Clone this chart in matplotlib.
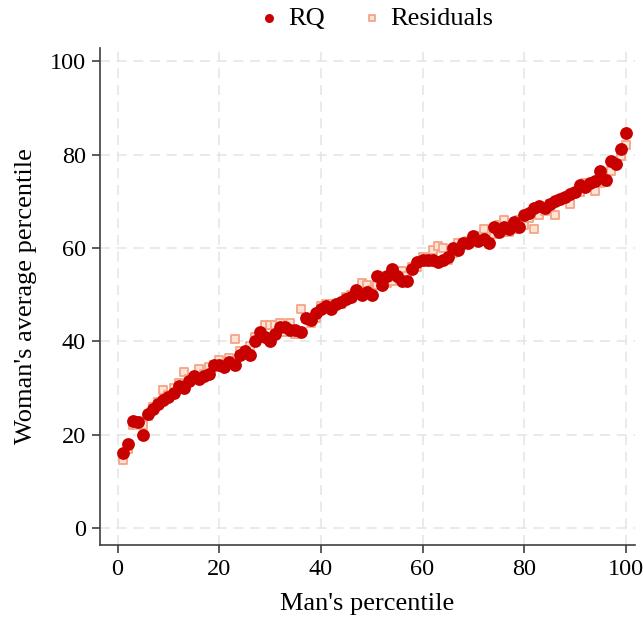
import matplotlib.pyplot as plt
import numpy as np

plt.rcParams['font.family'] = ['Liberation Serif', 'DejaVu Serif']

# man's percentile
pct = np.arange(1, 101)

# woman's average percentile, rank-quantile estimate
rq = [16, 18, 23, 22.7, 20, 24.5, 25.5, 26.5, 27.5, 28,
      29, 30.5, 30, 31.5, 32.5, 32, 32.5, 33, 35, 35,
      34.5, 35.5, 35, 37, 38, 37, 40, 42, 41, 40,
      41.5, 43, 43, 42.5, 42.5, 42, 45, 44.5, 46, 47,
      47.5, 47, 48, 48.5, 49, 49.5, 51, 50, 50.5, 50,
      54, 52, 54, 55.5, 54, 53, 53, 55.5, 57, 57.5,
      57.5, 57.5, 57, 57.5, 58, 60, 59.5, 61, 61, 62.5,
      61.5, 62, 61, 64.5, 63.5, 64.5, 64, 65.5, 64.5, 67,
      67.5, 68.5, 69, 68.5, 69.5, 70, 70.5, 71, 71.5, 72,
      73.5, 73, 74, 74.3, 76.5, 74.5, 78.6, 77.9, 81.3, 84.7]

# residuals-based estimate
resid = [14.5, 17, 22, 23, 22, 24, 26, 27, 29.5, 28.5,
         30, 31, 33.5, 32, 32, 34, 33, 34.5, 35, 36,
         35, 36.5, 40.5, 38, 37, 39, 41, 41.5, 43.5, 43.5,
         43.5, 44, 42, 44, 41.5, 47, 45, 44, 45, 47.5,
         48, 48, 48, 48, 49.5, 50, 50, 52.5, 52, 51,
         52, 54, 52.5, 53, 55, 55, 54, 56, 56, 58,
         57, 59.5, 60.5, 60, 57.5, 59, 61, 61, 61.5, 62,
         62.5, 64, 61.5, 63, 65, 66, 63.5, 64, 66, 65,
         66.5, 64, 67, 68, 69.5, 67, 70.5, 71, 69.5, 72,
         72, 74, 73, 72.2, 74, 74.1, 76.5, 78.5, 79.7, 82]

fig = plt.figure(figsize=(6.44, 6.19), dpi=100)
ax = fig.add_axes([0.155, 0.12, 0.831, 0.802])

ax.scatter(pct, resid, marker='s', s=30, facecolor='#fde3d8', edgecolor='#f6a485',
           linewidth=1.3, zorder=2, label='Residuals')
ax.scatter(pct, rq, marker='o', s=85, color='#c80000', linewidth=0, zorder=3, label='RQ')

ax.set_xlim(-3.5, 101.8)
ax.set_ylim(-3.6, 102.8)
ax.set_xticks([0, 20, 40, 60, 80, 100])
ax.set_yticks([0, 20, 40, 60, 80, 100])
ax.grid(True, color='#e6e6e6', linestyle=(0, (6, 4)), linewidth=1.2, zorder=0)
ax.set_axisbelow(True)
for s in ['top', 'right']:
    ax.spines[s].set_visible(False)
for s in ['left', 'bottom']:
    ax.spines[s].set_color('#404040')
    ax.spines[s].set_linewidth(1.2)
ax.tick_params(direction='out', length=6, width=1.2, color='#404040', labelsize=17.5, pad=4)
ax.set_xlabel("Man's percentile", fontsize=19, labelpad=10)
ax.set_ylabel("Woman's average percentile", fontsize=19, labelpad=9)

h, l = ax.get_legend_handles_labels()
fig.legend([h[1], h[0]], [l[1], l[0]], loc='upper center', bbox_to_anchor=(0.58, 1.028),
           ncol=2, frameon=False, fontsize=19, handletextpad=0.1, columnspacing=1.2,
           markerscale=0.7, handlelength=1.2)

fig.savefig('out.png', dpi=100)
